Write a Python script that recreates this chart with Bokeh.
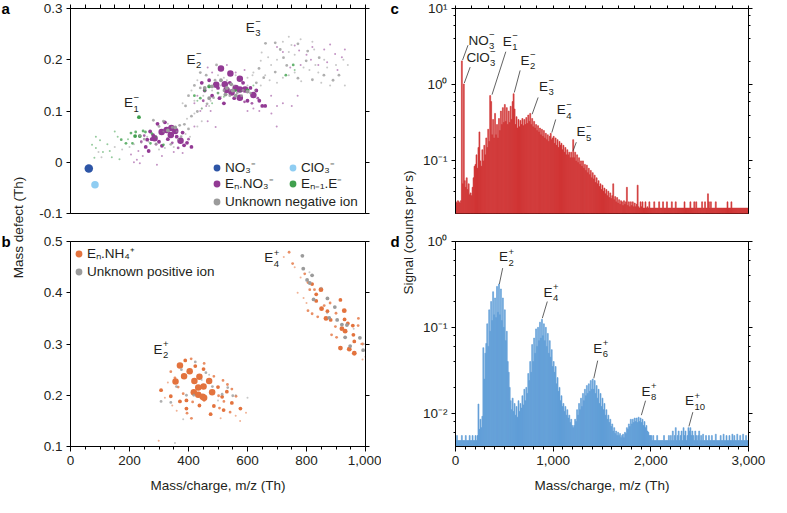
import math
from bokeh.plotting import figure
from bokeh.layouts import row, column
from bokeh.models import (LinearAxis, LogAxis, FixedTicker, LogTicker, Range1d,
                          Legend, LegendItem, CustomJSTickFormatter, ColumnDataSource)
from bokeh.core.properties import value
from bokeh.embed import file_html
from bokeh.resources import INLINE

FONT = "Liberation Sans"
TXT = "#231f20"
FS = "13.5px"
SUBFS = "9.5px"

# ---------------- data: panel a (negative ions), (m/z, mass defect) grouped by intensity level -------------
a_no3 = [(62, -0.012)]
a_clo3 = [(83, -0.044)]
a_en_no3 = [
    (510, 0.183), (542, 0.173), (574, 0.163), (494, 0.151), (523, 0.152), (529, 0.141), (546, 0.136),
    (560, 0.145), (574, 0.142), (592, 0.142), (574, 0.126), (620, 0.131),
    (342, 0.067), (309, 0.059), (340, 0.053), (373, 0.042), (326, 0.063), (285, 0.047), (355, 0.061)]
a_en_no3_mid = [
    (470, 0.160), (480, 0.130), (500, 0.145), (505, 0.125), (540, 0.155), (555, 0.125), (585, 0.155),
    (600, 0.120), (610, 0.145), (640, 0.120), (650, 0.110), (660, 0.110), (520, 0.115), (455, 0.140),
    (445, 0.155), (630, 0.140), (270, 0.060), (280, 0.053), (275, 0.045), (260, 0.044), (300, 0.040),
    (330, 0.045), (360, 0.050), (380, 0.058), (395, 0.038), (410, 0.030), (385, 0.033), (310, 0.032),
    (255, 0.030), (265, 0.022), (295, 0.075), (320, 0.078)]
a_en_no3_small = [
    (450, 0.120), (615, 0.115), (635, 0.125), (590, 0.118), (290, 0.035), (345, 0.038), (400, 0.045),
    (250, 0.052), (240, 0.040), (365, 0.028)]
a_en_no3_tiny = [
    (215, 0.000), (225, 0.005), (235, -0.002), (245, 0.012), (205, 0.015), (230, 0.022), (293, -0.005),
    (310, 0.012), (350, 0.020), (380, 0.018), (420, 0.070), (492, 0.069), (465, 0.080), (699, 0.070),
    (681, 0.095), (700, 0.110), (720, 0.115), (750, 0.110), (770, 0.130), (700, 0.225), (720, 0.215),
    (760, 0.228), (775, 0.218), (800, 0.210), (815, 0.200), (840, 0.190), (870, 0.195), (897, 0.211),
    (860, 0.220), (880, 0.230), (920, 0.205), (930, 0.220), (820, 0.225), (780, 0.190), (745, 0.185),
    (905, 0.180), (430, 0.130), (420, 0.115), (440, 0.100), (460, 0.110), (475, 0.100), (600, 0.100),
    (620, 0.105), (640, 0.100), (680, 0.130), (560, 0.175), (590, 0.180), (480, 0.175), (465, 0.185),
    (530, 0.190)]
a_enm1_e_mid = [(232, 0.088), (235, 0.051), (219, 0.051), (470, 0.148), (600, 0.140)]
a_enm1_e_small = [
    (205, 0.057), (221, 0.059), (246, 0.061), (172, 0.044), (188, 0.037), (210, 0.037), (254, 0.059),
    (276, 0.056), (271, 0.037), (315, 0.034), (420, 0.130), (440, 0.125), (455, 0.140), (500, 0.135),
    (560, 0.140), (755, 0.190), (730, 0.170)]
a_enm1_e_tiny = [
    (86, 0.050), (100, 0.043), (73, 0.034), (86, 0.028), (133, 0.022), (81, 0.009), (166, 0.006),
    (430, 0.120), (480, 0.115), (575, 0.138), (445, 0.105), (520, 0.128), (760, 0.180), (620, 0.150),
    (150, 0.060), (125, 0.035), (195, 0.045), (160, 0.050), (290, 0.050), (110, 0.020), (140, 0.010)]
a_unknown_mid = [
    (510, 0.160), (530, 0.145), (550, 0.140), (600, 0.138), (480, 0.148), (470, 0.125), (525, 0.132),
    (545, 0.152), (455, 0.145), (560, 0.130), (355, 0.068), (330, 0.062)]
a_unknown_small = [
    (281, 0.082), (300, 0.070), (315, 0.080), (345, 0.068), (370, 0.072), (386, 0.074), (410, 0.090),
    (430, 0.099), (463, 0.114), (485, 0.126), (250, 0.045), (290, 0.036), (340, 0.035), (375, 0.050),
    (400, 0.065), (235, 0.052), (400, 0.130), (420, 0.150), (440, 0.145), (460, 0.170), (490, 0.160),
    (520, 0.140), (540, 0.130), (565, 0.135), (585, 0.140), (610, 0.135), (630, 0.155), (655, 0.165),
    (495, 0.190), (440, 0.175), (390, 0.110), (580, 0.130), (661, 0.232), (694, 0.233), (711, 0.220),
    (771, 0.231), (722, 0.204), (804, 0.217), (639, 0.183), (733, 0.189), (799, 0.198), (843, 0.204),
    (694, 0.176), (771, 0.164), (859, 0.170), (820, 0.161), (890, 0.160), (910, 0.170)]
a_unknown_tiny = [
    (200, 0.030), (215, 0.035), (240, 0.038), (260, 0.050), (330, 0.075), (360, 0.060), (395, 0.085),
    (420, 0.095), (445, 0.105), (475, 0.120), (265, 0.040), (300, 0.025), (320, 0.028), (350, 0.030),
    (365, 0.045), (390, 0.055), (405, 0.050), (150, 0.030), (175, 0.025), (315, 0.060), (430, 0.070),
    (445, 0.080), (95, 0.020), (105, 0.010), (410, 0.140), (430, 0.160), (450, 0.130), (470, 0.150),
    (480, 0.140), (500, 0.135), (510, 0.150), (530, 0.160), (555, 0.150), (600, 0.150), (625, 0.140),
    (645, 0.150), (500, 0.170), (420, 0.120), (380, 0.115), (470, 0.110), (520, 0.165), (540, 0.140),
    (560, 0.170), (510, 0.128), (530, 0.132), (600, 0.165), (620, 0.175), (749, 0.229), (648, 0.214),
    (645, 0.198), (826, 0.220), (617, 0.170), (782, 0.158), (680, 0.190), (700, 0.200), (760, 0.210),
    (790, 0.185), (810, 0.180), (840, 0.175), (870, 0.185), (930, 0.150), (880, 0.150), (850, 0.155),
    (760, 0.175), (740, 0.170), (720, 0.165), (660, 0.170), (675, 0.160), (700, 0.155), (740, 0.215),
    (900, 0.190), (860, 0.200), (830, 0.190), (670, 0.205), (720, 0.235), (780, 0.240), (740, 0.245),
    (820, 0.235), (925, 0.200), (940, 0.190)]

# ---------------- data: panel b (positive ions) -------------
b_en_nh4_big = [
    (371, 0.258), (404, 0.247), (385, 0.237), (437, 0.236), (420, 0.228), (433, 0.215), (451, 0.217),
    (480, 0.206), (418, 0.206), (433, 0.201), (453, 0.195), (356, 0.227), (470, 0.228), (448, 0.197)]
b_en_nh4_large = [
    (849, 0.406), (928, 0.365), (920, 0.330), (945, 0.290), (962, 0.282), (931, 0.325), (915, 0.292),
    (866, 0.350), (851, 0.369)]
b_en_nh4_mid = [
    (358, 0.226), (389, 0.268), (423, 0.257), (451, 0.251), (500, 0.216), (514, 0.197), (530, 0.207),
    (547, 0.185), (486, 0.179), (519, 0.171), (576, 0.174), (393, 0.190), (371, 0.188), (340, 0.198),
    (307, 0.210), (437, 0.180), (475, 0.163), (393, 0.174), (819, 0.417), (833, 0.397), (915, 0.386),
    (871, 0.364), (882, 0.347), (929, 0.348), (940, 0.340), (957, 0.336), (959, 0.318), (962, 0.305),
    (833, 0.384)]
b_en_nh4_small = [
    (340, 0.246), (354, 0.234), (365, 0.216), (409, 0.271), (453, 0.262), (486, 0.237), (517, 0.229),
    (532, 0.221), (547, 0.212), (561, 0.198), (486, 0.208), (502, 0.199), (453, 0.190), (414, 0.187),
    (382, 0.203), (541, 0.167), (395, 0.165), (410, 0.155), (520, 0.188), (505, 0.175), (741, 0.479),
    (753, 0.457), (794, 0.437), (805, 0.420), (811, 0.406), (827, 0.406), (805, 0.365), (819, 0.359),
    (838, 0.353), (898, 0.334), (885, 0.318), (902, 0.313), (976, 0.350), (975, 0.336), (990, 0.300),
    (900, 0.360), (860, 0.375), (880, 0.380)]
b_en_nh4_tiny = [
    (723, 0.470), (299, 0.111), (509, 0.155), (595, 0.166), (760, 0.450), (780, 0.430), (770, 0.400),
    (790, 0.390), (800, 0.380), (1000, 0.275), (990, 0.270), (985, 0.300), (320, 0.195), (330, 0.225),
    (345, 0.180), (360, 0.170), (560, 0.160), (575, 0.150)]
b_unknown_mid = [
    (786, 0.472), (789, 0.447), (802, 0.425), (819, 0.434), (824, 0.387), (871, 0.389), (877, 0.351),
    (896, 0.372), (920, 0.338), (931, 0.313), (937, 0.337), (981, 0.312), (992, 0.288), (904, 0.347),
    (811, 0.419), (948, 0.296)]
b_unknown_small = [
    (423, 0.265), (459, 0.244), (376, 0.250), (481, 0.217), (514, 0.202), (533, 0.215), (550, 0.199),
    (418, 0.200), (393, 0.200), (307, 0.188), (340, 0.186), (359, 0.217)]
b_unknown_tiny = [
    (354, 0.107), (382, 0.153), (445, 0.230), (470, 0.240), (500, 0.190), (560, 0.200), (600, 0.195),
    (850, 0.410), (870, 0.360), (960, 0.330), (995, 0.300), (810, 0.440)]

# ---------------- data: panel c/d histograms (10-Th bins from 0 to 3,000 Th) -------------
BIN = 10
c_signal = [
    0.029, 0.028, 0.03, 0.029, 0.028, 0.03, 2.05, 0.05, 1.02, 0.055,
    0.045, 0.06, 0.042, 0.05, 0.036, 0.038, 0.035, 0.045, 0.06, 0.085,
    0.09, 0.12, 0.08, 0.15, 0.24, 0.1, 0.085, 0.14, 0.1, 0.16,
    0.12, 0.2, 0.15, 0.26, 0.18, 0.72, 0.6, 0.22, 0.35, 0.2,
    0.42, 0.22, 0.3, 0.2, 0.36, 0.25, 0.45, 0.3, 0.5, 0.32,
    0.55, 0.33, 0.5, 0.3, 0.45, 0.32, 0.52, 0.35, 0.6, 0.76,
    0.48, 0.3, 0.38, 0.27, 0.35, 0.28, 0.34, 0.3, 0.36, 0.29,
    0.35, 0.3, 0.37, 0.31, 0.4, 0.33, 0.42, 0.3, 0.36, 0.28,
    0.33, 0.27, 0.3, 0.25, 0.29, 0.24, 0.27, 0.22, 0.26, 0.21,
    0.25, 0.2, 0.23, 0.19, 0.22, 0.18, 0.21, 0.23, 0.19, 0.2,
    0.21, 0.17, 0.2, 0.16, 0.19, 0.15, 0.18, 0.16, 0.17, 0.14,
    0.16, 0.13, 0.15, 0.12, 0.14, 0.12, 0.13, 0.11, 0.13, 0.11,
    0.19, 0.11, 0.13, 0.1, 0.12, 0.095, 0.11, 0.09, 0.1, 0.085,
    0.1, 0.08, 0.09, 0.075, 0.088, 0.07, 0.08, 0.066, 0.075, 0.06,
    0.07, 0.058, 0.065, 0.052, 0.06, 0.05, 0.055, 0.046, 0.05, 0.042,
    0.048, 0.04, 0.044, 0.037, 0.042, 0.035, 0.04, 0.033, 0.038, 0.032,
    0.035, 0.05, 0.031, 0.034, 0.029, 0.033, 0.028, 0.031, 0.027, 0.03,
    0.029, 0.026, 0.03, 0.027, 0.029, 0.045, 0.026, 0.029, 0.025, 0.029,
    0.026, 0.029, 0.025, 0.028, 0.025, 0.027, 0.048, 0.025, 0.024, 0.029,
    0.025, 0.029, 0.024, 0.024, 0.029, 0.024, 0.025, 0.024, 0.029, 0.024,
    0.024, 0.024, 0.024, 0.029, 0.024, 0.024, 0.024, 0.024, 0.029, 0.024,
    0.024, 0.024, 0.029, 0.024, 0.024, 0.024, 0.029, 0.024, 0.024, 0.024,
    0.024, 0.029, 0.024, 0.024, 0.024, 0.029, 0.024, 0.024, 0.024, 0.024,
    0.024, 0.024, 0.024, 0.024, 0.029, 0.024, 0.024, 0.024, 0.024, 0.024,
    0.029, 0.024, 0.024, 0.024, 0.029, 0.024, 0.029, 0.024, 0.024, 0.024,
    0.024, 0.024, 0.029, 0.024, 0.024, 0.029, 0.024, 0.024, 0.037, 0.029,
    0.024, 0.029, 0.024, 0.024, 0.024, 0.024, 0.029, 0.024, 0.024, 0.024,
    0.024, 0.024, 0.024, 0.024, 0.024, 0.024, 0.024, 0.024, 0.029, 0.024,
    0.024, 0.024, 0.029, 0.024, 0.024, 0.024, 0.024, 0.024, 0.024, 0.024,
    0.024, 0.024, 0.024, 0.024, 0.024, 0.024, 0.024, 0.024, 0.024, 0.024]
d_signal = [
    0.0048, 0.0055, 0.0048, 0.0048, 0.0048, 0.0048, 0.0055, 0.0048, 0.0048, 0.0048,
    0.0055, 0.0048, 0.0048, 0.0048, 0.0055, 0.0048, 0.0048, 0.0055, 0.0048, 0.0048,
    0.0055, 0.0048, 0.0055, 0.0128, 0.0065, 0.0085, 0.0068, 0.0092, 0.058, 0.025,
    0.05, 0.065, 0.11, 0.06, 0.16, 0.09, 0.2, 0.12, 0.26, 0.14,
    0.22, 0.13, 0.3, 0.15, 0.32, 0.14, 0.28, 0.12, 0.22, 0.1,
    0.16, 0.07, 0.09, 0.04, 0.03, 0.02, 0.014, 0.011, 0.015, 0.0105,
    0.013, 0.0095, 0.012, 0.009, 0.014, 0.0105, 0.013, 0.0115, 0.016, 0.0125,
    0.019, 0.014, 0.02, 0.017, 0.029, 0.024, 0.04, 0.03, 0.063, 0.04,
    0.075, 0.05, 0.096, 0.06, 0.1, 0.07, 0.115, 0.075, 0.124, 0.08,
    0.11, 0.07, 0.1, 0.06, 0.085, 0.05, 0.07, 0.045, 0.055, 0.035,
    0.04, 0.03, 0.035, 0.022, 0.026, 0.018, 0.02, 0.014, 0.016, 0.012,
    0.013, 0.0105, 0.012, 0.0095, 0.011, 0.0088, 0.0095, 0.0078, 0.0085, 0.0072,
    0.0068, 0.0072, 0.0085, 0.008, 0.011, 0.0095, 0.013, 0.011, 0.015, 0.012,
    0.017, 0.014, 0.019, 0.016, 0.021, 0.017, 0.022, 0.018, 0.024, 0.019,
    0.025, 0.019, 0.024, 0.017, 0.021, 0.015, 0.019, 0.013, 0.017, 0.012,
    0.015, 0.011, 0.013, 0.0095, 0.011, 0.0085, 0.0095, 0.0078, 0.0085, 0.007,
    0.0075, 0.0062, 0.0068, 0.0058, 0.0062, 0.0055, 0.006, 0.0055, 0.0058, 0.0052,
    0.0055, 0.0057, 0.0052, 0.006, 0.0058, 0.0068, 0.0065, 0.0075, 0.007, 0.0085,
    0.0075, 0.0085, 0.0078, 0.0088, 0.008, 0.0088, 0.0078, 0.009, 0.008, 0.0088,
    0.0078, 0.0085, 0.0072, 0.008, 0.0068, 0.0072, 0.0062, 0.006, 0.0055, 0.0055,
    0.0055, 0.0048, 0.0055, 0.0048, 0.0048, 0.0048, 0.0055, 0.0048, 0.0048, 0.0048,
    0.0048, 0.0048, 0.0048, 0.0055, 0.0048, 0.0048, 0.0048, 0.0048, 0.0055, 0.0048,
    0.0055, 0.0048, 0.0062, 0.0048, 0.0055, 0.0068, 0.0048, 0.0055, 0.0062, 0.0048,
    0.0055, 0.0062, 0.0048, 0.0068, 0.0055, 0.0062, 0.0048, 0.0055, 0.0068, 0.0062,
    0.0068, 0.0055, 0.0062, 0.0055, 0.0048, 0.0062, 0.0055, 0.0048, 0.0055, 0.0062,
    0.0048, 0.0055, 0.0048, 0.0057, 0.0048, 0.0048, 0.0055, 0.0048, 0.0048, 0.0055,
    0.0048, 0.0048, 0.0055, 0.0048, 0.0048, 0.0048, 0.0057, 0.0048, 0.0048, 0.0048,
    0.0048, 0.0055, 0.0048, 0.0048, 0.0057, 0.0048, 0.0048, 0.0055, 0.0048, 0.0048,
    0.0055, 0.0048, 0.0048, 0.0057, 0.0048, 0.0055, 0.0048, 0.0048, 0.0057, 0.0048,
    0.0048, 0.0055, 0.0048, 0.0048, 0.0057, 0.0048, 0.0048, 0.0055, 0.0048, 0.0048]

# peak labels: (base, subscript, superscript, m/z, value); leaders: (m/z0, v0, m/z1, v1)
a_labels = [("E", "1", "\u2212", 181, 0.116), ("E", "2", "\u2212", 393, 0.201), ("E", "3", "\u2212", 594, 0.263)]
b_labels = [("E", "2", "+", 281, 0.290), ("E", "4", "+", 657, 0.468)]
c_labels = [("NO", "3", "\u2212", 133, 3.84), ("ClO", "3", "\u2212", 113, 2.28), ("E", "1", "\u2212", 484, 3.73),
            ("E", "2", "\u2212", 665, 2.10), ("E", "3", "\u2212", 856, 0.96), ("E", "4", "\u2212", 1037, 0.47),
            ("E", "5", "\u2212", 1238, 0.242)]
c_leaders = [(72, 2.1, 128, 3.3), (90, 1.05, 150, 1.7), (374, 0.74, 515, 2.71), (602, 0.79, 662, 1.54),
             (785, 0.41, 846, 0.68), (986, 0.235, 1026, 0.35), (1204, 0.136, 1237, 0.176)]
d_labels = [("E", "2", "+", 446, 0.66), ("E", "4", "+", 902, 0.256), ("E", "6", "+", 1410, 0.0575),
            ("E", "8", "+", 1904, 0.018), ("E", "10", "+", 2349, 0.014)]
d_leaders = [(449, 0.32, 483, 0.49), (889, 0.128, 940, 0.2), (1416, 0.0255, 1456, 0.041),
             (1903, 0.0095, 1946, 0.014), (2390, 0.00703, 2430, 0.0103)]

# ---------------- styling -------------
C_NO3, C_CLO3, C_PUR, C_GRN, C_GRY = "#2d55a6", "#8fcdf2", "#923a94", "#40a04e", "#9b9b9b"
C_ORG, C_RED, C_BLU = "#e3733e", "#d03434", "#5f9dd6"
SIZE = {1: 2.0, 2: 2.8, 3: 3.8, 4: 4.8, 5: 6.5}
ALPHA = {1: 0.55, 2: 0.8, 3: 1.0, 4: 1.0, 5: 1.0}
FH = 205
FW1, FW2 = 295, 293
TOTAL_H = 497
BASE_W = {"E": 9.5, "NO": 20.5, "ClO": 23.5}


def src(pts, lvl):
    return ColumnDataSource(dict(x=[p[0] for p in pts], y=[p[1] for p in pts],
                                 size=[SIZE[lvl]] * len(pts), alpha=[ALPHA[lvl]] * len(pts)))


def no_labels():
    return CustomJSTickFormatter(code="return ''")


def add_axis(p, side, ticker, fmt=None, log=False, tick_out=4, minor_out=0, label=None, standoff=4):
    cls = LogAxis if log else LinearAxis
    show = fmt is not None
    ax = cls(ticker=ticker, formatter=fmt if show else no_labels())
    ax.major_tick_out = tick_out
    ax.major_tick_in = 0
    ax.minor_tick_out = minor_out
    ax.minor_tick_in = 0
    ax.axis_line_color = "black"
    ax.major_tick_line_color = "black"
    ax.minor_tick_line_color = "black"
    ax.major_label_text_font = FONT
    ax.major_label_text_font_size = FS if show else "0px"
    ax.major_label_text_color = TXT
    ax.major_label_standoff = standoff if show else 0
    if label:
        ax.axis_label = label
        ax.axis_label_text_font = FONT
        ax.axis_label_text_font_size = FS
        ax.axis_label_text_font_style = "normal"
        ax.axis_label_text_color = TXT
        ax.axis_label_standoff = 10
    p.add_layout(ax, side)
    return ax


def make_fig(xr, yr, fw, borders, log_y=False):
    l, r, t, b = borders
    kw = dict(frame_width=fw, frame_height=FH, x_range=Range1d(*xr), y_range=Range1d(*yr),
              output_backend="svg", toolbar_location=None,
              x_axis_location=None, y_axis_location=None,
              min_border_left=l, min_border_right=r, min_border_top=t, min_border_bottom=b)
    if log_y:
        kw["y_axis_type"] = "log"
    p = figure(**kw)
    p.grid.visible = False
    p.outline_line_color = "black"
    p.outline_line_alpha = 1
    p.outline_line_width = 1
    p.background_fill_color = "white"
    p.border_fill_color = "white"
    return p


def ion_label(p, base, sub, sup, x, y):
    common = dict(text_font=value(FONT), text_color=TXT, text_align="left", text_baseline="middle")
    bw = BASE_W[base]
    p.text(x=[x], y=[y], text=[base], text_font_size=FS, **common)
    p.text(x=[x], y=[y], text=[sub], text_font_size=SUBFS, x_offset=bw, y_offset=6, **common)
    p.text(x=[x], y=[y], text=[sup], text_font_size=SUBFS, x_offset=bw, y_offset=-5, **common)


def style_legend(lg, label_width=0):
    lg.label_text_font = FONT
    lg.label_text_font_size = FS
    lg.label_text_color = TXT
    lg.glyph_width = 17
    lg.glyph_height = 17
    lg.label_height = 17
    lg.label_standoff = 0
    lg.label_width = label_width
    lg.padding = 0
    lg.margin = 0
    lg.border_line_color = None
    lg.background_fill_alpha = 0


LIN1 = CustomJSTickFormatter(code="return Math.abs(tick) < 1e-9 ? '0' : tick.toFixed(1);")
LOGF = CustomJSTickFormatter(code="""
const e = Math.round(Math.log10(tick));
const m = {'-': '\\u207b', '0': '\\u2070', '1': '\\u00b9', '2': '\\u00b2', '3': '\\u00b3'};
return '10' + String(e).split('').map(c => m[c]).join('');
""")

# ---------------- panel a -------------
pa = make_fig((0, 1000), (-0.1, 0.3), FW1, (42, 16, 8, 10))
add_axis(pa, "left", FixedTicker(ticks=[-0.1, 0, 0.1, 0.2, 0.3]), LIN1)
add_axis(pa, "right", FixedTicker(ticks=[-0.1, 0, 0.1, 0.2, 0.3]))
add_axis(pa, "above", FixedTicker(ticks=list(range(0, 1001, 50))))

kw = dict(x="x", y="y", size="size", fill_alpha="alpha", line_color=None)
r_pur = pa.scatter(source=src(a_en_no3, 5), fill_color=C_PUR, **kw)
pa.scatter(source=src(a_en_no3_mid, 3), fill_color=C_PUR, **kw)
pa.scatter(source=src(a_en_no3_small, 2), fill_color=C_PUR, **kw)
pa.scatter(source=src(a_en_no3_tiny, 1), fill_color=C_PUR, **kw)
r_grn = pa.scatter(source=src(a_enm1_e_mid, 3), fill_color=C_GRN, **kw)
pa.scatter(source=src(a_enm1_e_small, 2), fill_color=C_GRN, **kw)
pa.scatter(source=src(a_enm1_e_tiny, 1), fill_color=C_GRN, **kw)
r_gry = pa.scatter(source=src(a_unknown_mid, 3), fill_color=C_GRY, **kw)
pa.scatter(source=src(a_unknown_small, 2), fill_color=C_GRY, **kw)
pa.scatter(source=src(a_unknown_tiny, 1), fill_color=C_GRY, **kw)
r_no3 = pa.scatter(x=[q[0] for q in a_no3], y=[q[1] for q in a_no3], size=8.5, fill_color=C_NO3, line_color=None)
r_clo3 = pa.scatter(x=[q[0] for q in a_clo3], y=[q[1] for q in a_clo3], size=7.5, fill_color=C_CLO3, line_color=None)
for lab in a_labels:
    ion_label(pa, *lab)

lg1 = Legend(items=[LegendItem(label="NO\u2083\u207b", renderers=[r_no3]),
                    LegendItem(label="ClO\u2083\u207b", renderers=[r_clo3])],
             orientation="horizontal", location=(138, 37))
lg2 = Legend(items=[LegendItem(label="E\u2099.NO\u2083\u207b", renderers=[r_pur]),
                    LegendItem(label="E\u2099\u208b\u2081.E\u207b", renderers=[r_grn])],
             orientation="horizontal", location=(138, 21))
lg3 = Legend(items=[LegendItem(label="Unknown negative ion", renderers=[r_gry])],
             orientation="horizontal", location=(138, 3))
for lg in (lg1, lg2):
    style_legend(lg, 56)
    pa.add_layout(lg)
style_legend(lg3)
pa.add_layout(lg3)

# ---------------- panel b -------------
pb = make_fig((0, 1000), (0.1, 0.5), FW1, (42, 16, 18, 51))
add_axis(pb, "left", FixedTicker(ticks=[0.1, 0.2, 0.3, 0.4, 0.5]), LIN1)
add_axis(pb, "right", FixedTicker(ticks=[0.1, 0.2, 0.3, 0.4, 0.5]))
add_axis(pb, "below", FixedTicker(ticks=list(range(0, 1001, 200)), minor_ticks=list(range(0, 1001, 50))),
         CustomJSTickFormatter(code="return tick.toLocaleString('en-US');"), tick_out=5, minor_out=3,
         label="Mass/charge, m/z (Th)")
r_org = pb.scatter(source=src(b_en_nh4_big, 5), fill_color=C_ORG, **kw)
pb.scatter(source=src(b_en_nh4_large, 4), fill_color=C_ORG, **kw)
pb.scatter(source=src(b_en_nh4_mid, 3), fill_color=C_ORG, **kw)
pb.scatter(source=src(b_en_nh4_small, 2), fill_color=C_ORG, **kw)
pb.scatter(source=src(b_en_nh4_tiny, 1), fill_color=C_ORG, **kw)
r_gry_b = pb.scatter(source=src(b_unknown_mid, 3), fill_color=C_GRY, **kw)
pb.scatter(source=src(b_unknown_small, 2), fill_color=C_GRY, **kw)
pb.scatter(source=src(b_unknown_tiny, 1), fill_color=C_GRY, **kw)
for lab in b_labels:
    ion_label(pb, *lab)
lgb = Legend(items=[LegendItem(label="E\u2099.NH\u2084\u207a", renderers=[r_org]),
                    LegendItem(label="Unknown positive ion", renderers=[r_gry_b])],
             orientation="vertical", location=(0, 166))
style_legend(lgb)
lgb.spacing = 1
pb.add_layout(lgb)

# ---------------- panel c -------------
C_YMIN, D_YMIN = 0.0204, 0.0041
pc = make_fig((0, 3000), (C_YMIN, 10), FW2, (38, 22, 8, 10), log_y=True)
add_axis(pc, "left", LogTicker(), LOGF, log=True, tick_out=4, minor_out=2)
add_axis(pc, "right", LogTicker(), log=True, tick_out=4, minor_out=2)
add_axis(pc, "above", FixedTicker(ticks=[i * 3000 / 18 for i in range(19)]), tick_out=3)
mz_bins = [BIN / 2 + BIN * i for i in range(len(c_signal))]
pc.vbar(x=mz_bins, top=c_signal, bottom=C_YMIN, width=BIN, fill_color=C_RED,
        line_color=C_RED, line_width=0.6)
pc.segment(x0=[s[0] for s in c_leaders], y0=[s[1] for s in c_leaders],
           x1=[s[2] for s in c_leaders], y1=[s[3] for s in c_leaders], line_color="#3a3a3a", line_width=0.8)
for lab in c_labels:
    ion_label(pc, *lab)

# ---------------- panel d -------------
pd_ = make_fig((0, 3000), (D_YMIN, 1), FW2, (38, 22, 18, 51), log_y=True)
add_axis(pd_, "left", LogTicker(), LOGF, log=True, tick_out=4, minor_out=2)
add_axis(pd_, "right", LogTicker(), log=True, tick_out=4, minor_out=2)
add_axis(pd_, "below", FixedTicker(ticks=[0, 1000, 2000, 3000], minor_ticks=list(range(0, 3001, 100))),
         CustomJSTickFormatter(code="return tick.toLocaleString('en-US');"), tick_out=5, minor_out=3,
         label="Mass/charge, m/z (Th)")
mz_bins_d = [BIN / 2 + BIN * i for i in range(len(d_signal))]
pd_.vbar(x=mz_bins_d, top=d_signal, bottom=D_YMIN, width=BIN, fill_color=C_BLU,
         line_color=C_BLU, line_width=0.6)
pd_.segment(x0=[s[0] for s in d_leaders], y0=[s[1] for s in d_leaders],
            x1=[s[2] for s in d_leaders], y1=[s[3] for s in d_leaders], line_color="#3a3a3a", line_width=0.8)
for lab in d_labels:
    ion_label(pd_, *lab)


# ---------------- side label strips -------------
def strip(w, letters, title, tx, ty):
    p = figure(width=w, height=TOTAL_H, x_range=Range1d(0, w), y_range=Range1d(TOTAL_H, 0),
               output_backend="svg", toolbar_location=None, x_axis_location=None, y_axis_location=None,
               min_border=0)
    p.grid.visible = False
    p.outline_line_color = None
    for (t, x, y) in letters:
        p.text(x=[x], y=[y], text=[t], text_font=value(FONT), text_font_size="15px", text_font_style="bold",
               text_color="black", text_baseline="middle", text_align="left")
    p.text(x=[tx], y=[ty], text=[title], angle=math.pi / 2, text_font=value(FONT), text_font_size=FS,
           text_color=TXT, text_align="center", text_baseline="middle")
    return p


left_strip = strip(28, [("a", 1, 8), ("b", 1, 241)], "Mass defect (Th)", 18, 227)
mid_strip = strip(36, [("c", 9, 8), ("d", 9, 241)], "Signal (counts per s)", 27, 232)

layout = row(left_strip, column(pa, pb), mid_strip, column(pc, pd_))
open("out.html", "w").write(file_html(layout, INLINE))
